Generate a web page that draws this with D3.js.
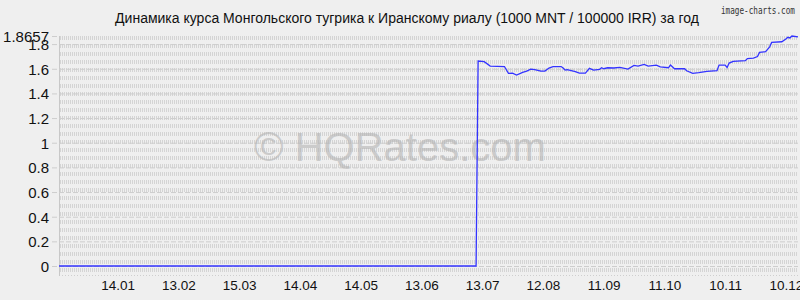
<!DOCTYPE html>
<html>
<head>
<meta charset="utf-8">
<script src="https://cdn.jsdelivr.net/npm/d3@7"></script>
<style>
    body { margin: 0; background: #efefef; }
    svg { display: block; font-family: 'Liberation Sans', Arial, sans-serif; }
</style>
</head>
<body>
<div id="chart"></div>
<script>
// Курс MNT/IRR за год: даты и значения
const dates = ['2018-12-16', '2019-07-10', '2019-07-11', '2019-07-14', '2019-07-17', '2019-07-24', '2019-07-26',
    '2019-07-28', '2019-07-30', '2019-08-02', '2019-08-04', '2019-08-06', '2019-08-08', '2019-08-11', '2019-08-13',
    '2019-08-15', '2019-08-17', '2019-08-21', '2019-08-22', '2019-08-23', '2019-08-24', '2019-08-28', '2019-08-30',
    '2019-09-02', '2019-09-04', '2019-09-06', '2019-09-09', '2019-09-10', '2019-09-11', '2019-09-13', '2019-09-16',
    '2019-09-19', '2019-09-23', '2019-09-26', '2019-09-28', '2019-10-01', '2019-10-03', '2019-10-07', '2019-10-09',
    '2019-10-13', '2019-10-14', '2019-10-16', '2019-10-21', '2019-10-22', '2019-10-25', '2019-10-28', '2019-11-01',
    '2019-11-06', '2019-11-07', '2019-11-10', '2019-11-11', '2019-11-12', '2019-11-14', '2019-11-20', '2019-11-21',
    '2019-11-24', '2019-11-26', '2019-11-27', '2019-11-30', '2019-12-02', '2019-12-03', '2019-12-08', '2019-12-10',
    '2019-12-11', '2019-12-12', '2019-12-13', '2019-12-16']
const rates = [0, 0, 1.663, 1.657, 1.622, 1.618, 1.562,
    1.565, 1.549, 1.571, 1.581, 1.597, 1.593, 1.581, 1.581,
    1.606, 1.618, 1.618, 1.606, 1.589, 1.593, 1.577, 1.565,
    1.565, 1.603, 1.589, 1.595, 1.608, 1.600, 1.608, 1.606,
    1.611, 1.597, 1.627, 1.622, 1.636, 1.622, 1.630, 1.616,
    1.608, 1.630, 1.600, 1.600, 1.584, 1.562, 1.568, 1.579,
    1.584, 1.630, 1.630, 1.610, 1.646, 1.660, 1.666, 1.683,
    1.687, 1.699, 1.733, 1.738, 1.778, 1.814, 1.819, 1.841,
    1.855, 1.850, 1.8657, 1.858]

const xDomain = ['2018-12-16', '2019-12-16']
const xTickDates = ['2019-01-14', '2019-02-13', '2019-03-15', '2019-04-14', '2019-05-14', '2019-06-13',
    '2019-07-13', '2019-08-12', '2019-09-11', '2019-10-11', '2019-11-10', '2019-12-10']
const yTicks = [0, 0.2, 0.4, 0.6, 0.8, 1, 1.2, 1.4, 1.6, 1.8]
const yMax = 1.8657

const titleText = 'Динамика курса Монгольского тугрика к Иранскому риалу (1000 MNT / 100000 IRR) за год'

function getTranslateString(x, y) {
    return 'translate(' + x + ', ' + y + ')'
}

class RateLineChart {
    constructor(width, height, divElementName) {
        this.width = width
        this.height = height
        this.divElementName = divElementName
        this.parseDate = d3.timeParse('%Y-%m-%d')
        this.initialize()
    }

    initialize = () => {
        this.setAxesStartAndEnd()
        this.createSVGInstance(this.divElementName)
        this.createScales()
        this.drawGridPattern()
        this.drawYAxis()
        this.drawXAxis()
        this.drawWatermark()
        this.drawLine()
        this.drawTitle()
    }

    setAxesStartAndEnd = () => {
        this.xAxisStart = 59
        this.xAxisEnd = 798
        this.yAxisStart = 266   // where 0 sits
        this.yAxisEnd = 36      // where the max sits
        this.plotBottom = 276
    }

    createSVGInstance = (divElement) => {
        this.svg = d3.select(divElement).append('svg').attr('width', this.width).attr('height', this.height)
        this.svg.append('rect').attr('width', this.width).attr('height', this.height).style('fill', '#efefef')
    }

    createScales = () => {
        this.xScale = d3.scaleTime().domain(xDomain.map(this.parseDate)).range([this.xAxisStart, this.xAxisEnd])
        this.yScale = d3.scaleLinear().domain([0, yMax]).range([this.yAxisStart, this.yAxisEnd])
    }

    drawGridPattern = () => {
        // the dotted texture of the plot area: short vertical dashes in bands
        let pattern = this.svg.append('defs').append('pattern')
            .attr('id', 'grid').attr('patternUnits', 'userSpaceOnUse')
            .attr('x', this.xAxisStart + 1).attr('y', this.yAxisEnd)
            .attr('width', 2).attr('height', 8)
        pattern.append('rect').attr('x', 0).attr('y', 0).attr('width', 1).attr('height', 4).style('fill', '#d4d4d4')
        this.svg.append('rect')
            .attr('x', this.xAxisStart + 1).attr('y', this.yAxisEnd)
            .attr('width', this.xAxisEnd - this.xAxisStart - 1).attr('height', this.plotBottom - this.yAxisEnd)
            .style('fill', 'url(#grid)')
        this.svg.append('line')
            .attr('x1', this.xAxisStart).attr('x2', this.xAxisEnd)
            .attr('y1', this.plotBottom - 0.5).attr('y2', this.plotBottom - 0.5)
            .style('stroke', '#cfcfcf').style('stroke-dasharray', '1,2')
    }

    drawYAxis = () => {
        let yAxis = d3.axisLeft(this.yScale).tickValues(yTicks.concat([yMax]))
            .tickSize(-(this.xAxisEnd - this.xAxisStart)).tickPadding(10)
            .tickFormat(d => d === yMax ? String(yMax) : d3.format('~g')(d))
        let g = this.svg.append('g').attr('transform', getTranslateString(this.xAxisStart, 0)).call(yAxis)
        g.select('.domain').attr('d', 'M0.5,' + this.yAxisEnd + 'V' + this.plotBottom).style('stroke', '#c8c8c8')
        g.selectAll('.tick line').attr('x1', -7)
            .style('stroke', '#cdcdcd').style('stroke-dasharray', '5,2')
        g.selectAll('.tick').filter(d => d === yMax).select('line').attr('x2', 0)
        g.selectAll('.tick text').style('font-size', '15px').style('fill', '#111')
            .attr('x', -10).attr('dy', '0.36em')
    }

    drawXAxis = () => {
        let xAxis = d3.axisBottom(this.xScale).tickValues(xTickDates.map(this.parseDate))
            .tickSize(0).tickPadding(4).tickFormat(d3.timeFormat('%d.%m'))
        let g = this.svg.append('g').attr('transform', getTranslateString(0, this.plotBottom)).call(xAxis)
        g.select('.domain').remove()
        g.selectAll('.tick text').style('font-size', '13.5px').style('fill', '#111')
    }

    drawWatermark = () => {
        this.svg.append('text').attr('x', 400).attr('y', 161).attr('text-anchor', 'middle')
            .text('© HQRates.com').style('font-size', '40px').style('fill', '#b4b4b4').style('opacity', 0.6)
    }

    drawLine = () => {
        let points = dates.map((d, i) => [this.parseDate(d), rates[i]])
        let line = d3.line().x(p => this.xScale(p[0])).y(p => this.yScale(p[1]))
        this.svg.append('path').datum(points).attr('d', line)
            .style('fill', 'none').style('stroke', '#3333ff').style('stroke-width', 1.3)
    }

    drawTitle = () => {
        this.svg.append('text').attr('x', 407).attr('y', 23).attr('text-anchor', 'middle')
            .text(titleText).style('font-size', '14px').style('fill', '#111')
        this.svg.append('text').attr('x', 795).attr('y', 14).attr('text-anchor', 'end')
            .attr('textLength', 74).attr('lengthAdjust', 'spacingAndGlyphs')
            .text('image-charts.com').style('font-size', '11px').style('fill', '#333')
            .style('font-family', 'DejaVu Sans Mono, monospace')
    }
}

new RateLineChart(800, 300, '#chart')
</script>
</body>
</html>
